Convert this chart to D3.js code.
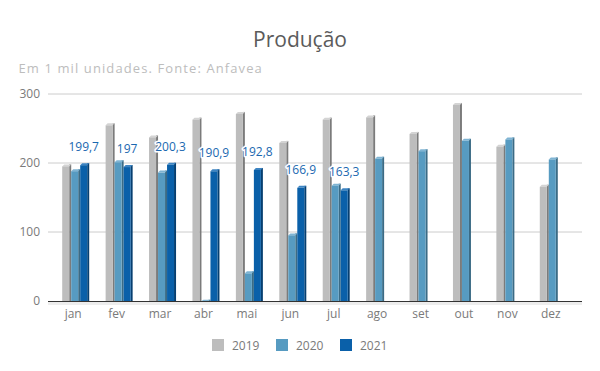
<!DOCTYPE html>
<html><head><meta charset="utf-8">
<script src="https://cdn.jsdelivr.net/npm/d3@7"></script>
<style>html,body{margin:0;padding:0;background:#fff;}svg{display:block;font-family:"Open Sans",sans-serif;}</style>
</head><body>
<svg id="c" width="600" height="371"></svg>
<script>
const months = ["jan","fev","mar","abr","mai","jun","jul","ago","set","out","nov","dez"];
const seriesNames = ["2019","2020","2021"];
const v2019 = [198, 257.5, 240, 265.7, 274, 232, 265.7, 269, 245, 287, 226.5, 168.5];
const v2020 = [191, 204, 189, 1.8, 43, 98, 170, 209, 220, 235, 237, 208];
const v2021 = [199.7, 197, 200.3, 190.9, 192.8, 166.9, 163.3, null, null, null, null, null];
const yTicks = [0, 100, 200, 300];
const frontColors = ["#bdbdbd", "#579bc1", "#0a60a9"];
const sideColors  = ["#7b7b7b", "#3b6b85", "#063f70"];
const topColors   = ["#d4d4d4", "#7fb4d3", "#3d84c2"];

const allValues = [v2019, v2020, v2021];
const svg = d3.select("#c");
const y = d3.scaleLinear().domain([0, 300]).range([301, 94]);
const x = d3.scaleBand().domain(months).range([54, 575]).padding(0);
const xs = d3.scaleBand().domain(seriesNames).range([0, 27]);
const depth = 2;

// title
svg.append("text").attr("x", 300).attr("y", 47).attr("text-anchor", "middle")
  .attr("font-size", 21).attr("fill", "#5b5b5b").text("Produção");
svg.append("text").attr("x", 18.5).attr("y", 72.5).attr("font-size", 13).attr("fill", "#bdbdbd")
  .attr("letter-spacing", 1.1).text("Em 1 mil unidades. Fonte: Anfavea");

// gridlines
svg.append("g").selectAll("line").data(yTicks.filter(t => t > 0)).join("line")
  .attr("x1", 48).attr("x2", 582).attr("y1", d => y(d)).attr("y2", d => y(d))
  .attr("stroke", "#cccccc").attr("stroke-width", 1);

// y axis labels
const yAxis = d3.axisLeft(y).tickValues(yTicks).tickSize(0).tickPadding(0);
const gy = svg.append("g").attr("transform", "translate(40,0)").call(yAxis);
gy.select(".domain").remove();
gy.selectAll("text").attr("font-size", 12).attr("fill", "#7a7a7a").attr("font-family", "Open Sans");

// floor
svg.append("rect").attr("x", 48).attr("y", 302).attr("width", 534).attr("height", 3).attr("fill", "#ededed");

// bars
const groups = svg.append("g").selectAll("g").data(months).join("g")
  .attr("transform", d => `translate(${x(d) + (x.bandwidth() - 27) / 2},0)`);
seriesNames.forEach((s, si) => {
  groups.each(function(m, mi) {
    const v = allValues[si][mi];
    if (v == null) return;
    const g = d3.select(this);
    const bx = xs(s), w = xs.bandwidth() - depth;
    const yt = y(v), y0 = y(0);
    const ft = Math.min(yt + depth, y0);
    g.append("rect").attr("x", bx + w).attr("y", yt).attr("width", depth).attr("height", Math.max(0, y0 - yt))
      .attr("fill", sideColors[si]);
    g.append("path").attr("d", `M${bx},${ft}L${bx + depth},${yt}L${bx + w + depth},${yt}L${bx + w},${ft}Z`)
      .attr("fill", topColors[si]);
    g.append("rect").attr("x", bx).attr("y", ft).attr("width", w).attr("height", Math.max(0, y0 - ft))
      .attr("fill", frontColors[si]);
  });
});

// baseline
svg.append("line").attr("x1", 48).attr("x2", 582).attr("y1", 301.5).attr("y2", 301.5)
  .attr("stroke", "#333333").attr("stroke-width", 1);

// data labels 2021
const fmt = v => String(v).replace(".", ",");
svg.append("g").selectAll("text").data(months.map((m, i) => ({m, v: v2021[i]})).filter(d => d.v != null)).join("text")
  .attr("x", d => x(d.m) + (x.bandwidth() - 27) / 2 + xs("2021") + (xs.bandwidth() - depth) / 2)
  .attr("y", d => y(d.v) - 12)
  .attr("text-anchor", "middle").attr("font-size", 12).attr("fill", "#1a68b0")
  .attr("stroke", "#fff").attr("stroke-width", 3).attr("paint-order", "stroke").attr("stroke-linejoin", "round")
  .text(d => fmt(d.v));

// x axis labels
const xAxis = d3.axisBottom(x).tickSize(0).tickPadding(0);
const gx = svg.append("g").attr("transform", "translate(-2.5,309)").call(xAxis);
gx.select(".domain").remove();
gx.selectAll("text").attr("font-size", 12).attr("fill", "#7a7a7a").attr("font-family", "Open Sans");

// legend
const leg = svg.append("g").selectAll("g").data(seriesNames).join("g")
  .attr("transform", (d, i) => `translate(${212 + i * 64},339)`);
leg.append("rect").attr("width", 12).attr("height", 12).attr("fill", (d, i) => frontColors[i]);
leg.append("text").attr("x", 20).attr("y", 10.5).attr("font-size", 12).attr("fill", "#7a7a7a").text(d => d);
</script>
</body></html>
